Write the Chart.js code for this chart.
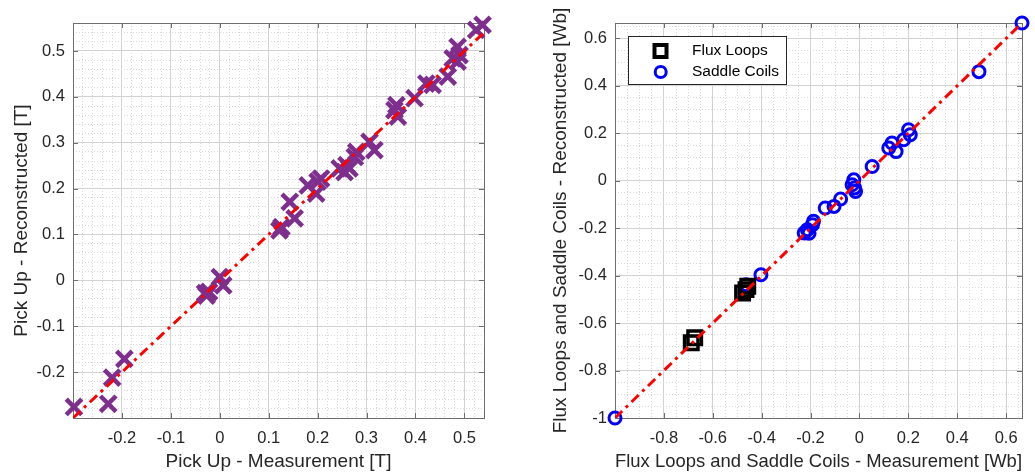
<!DOCTYPE html>
<html>
<head>
<meta charset="utf-8">
<script src="https://cdn.jsdelivr.net/npm/chart.js@4.4.0/dist/chart.umd.min.js"></script>
<style>
  body { margin: 0; background: #fff; width: 1035px; height: 474px; overflow: hidden; position: relative; }
  #left { position: absolute; left: 0; top: 0; }
  #right { position: absolute; left: 540px; top: 0; }
</style>
</head>
<body>
<canvas id="left" width="500" height="474"></canvas>
<canvas id="right" width="495" height="474"></canvas>
<script>
'use strict'

// pick up probes: measured vs reconstructed [T]
var pickUpMeas = [-0.298, -0.228, -0.220, -0.195, -0.030, -0.022, -0.027, 0.000, 0.007, 0.122,
  0.126, 0.153, 0.143, 0.180, 0.197, 0.207, 0.200, 0.245, 0.255, 0.259,
  0.265, 0.279, 0.276, 0.306, 0.316, 0.361, 0.364, 0.357, 0.398, 0.422,
  0.435, 0.466, 0.476, 0.486, 0.486, 0.490, 0.524, 0.537];
var pickUpRec = [-0.276, -0.269, -0.212, -0.171, -0.028, -0.025, -0.033, 0.007, -0.011, 0.109,
  0.116, 0.135, 0.171, 0.207, 0.189, 0.222, 0.215, 0.244, 0.236, 0.251,
  0.244, 0.280, 0.269, 0.302, 0.284, 0.382, 0.357, 0.371, 0.397, 0.429,
  0.426, 0.444, 0.484, 0.477, 0.509, 0.491, 0.546, 0.557];

// flux loops [Wb]
var fluxMeas = [-0.457, -0.464, -0.478, -0.674, -0.688];
var fluxRec = [-0.445, -0.459, -0.473, -0.662, -0.683];

// saddle coils [Wb]
var saddleMeas = [-1.000, -0.464, -0.403, -0.226, -0.213, -0.206, -0.192, -0.188, -0.140, -0.104,
  -0.077, -0.030, -0.023, -0.016, -0.020, 0.052, 0.120, 0.133, 0.150, 0.181,
  0.201, 0.208, 0.489, 0.665];
var saddleRec = [-1.000, -0.438, -0.396, -0.220, -0.206, -0.221, -0.185, -0.171, -0.115, -0.108,
  -0.077, -0.017, 0.004, -0.045, -0.030, 0.060, 0.138, 0.159, 0.123, 0.173,
  0.215, 0.194, 0.460, 0.665];

// axis limits and tick labels
var leftXLim = [-0.3, 0.54];
var leftYLim = [-0.3, 0.561];
var leftTicks = [-0.2, -0.1, 0, 0.1, 0.2, 0.3, 0.4, 0.5];
var rightLim = [-1, 0.665];
var rightXTicks = [-0.8, -0.6, -0.4, -0.2, 0, 0.2, 0.4, 0.6];
var rightYTicks = [-1, -0.8, -0.6, -0.4, -0.2, 0, 0.2, 0.4, 0.6];

var TEXT = '#262626';
Chart.defaults.font.family = '"Liberation Sans", Arial, sans-serif';
Chart.defaults.color = TEXT;

function isMajor(v, labels) {
  return labels.some(function(t) { return Math.abs(t - v) < 1e-6; });
}

function pts(xs, ys) {
  return xs.map(function(x, i) { return {x: x, y: ys[i]}; });
}

function gridScale(lim, minorStep, labels, title, horizontal, size, titlePad) {
  return {
    type: 'linear',
    min: lim[0],
    max: lim[1],
    afterBuildTicks: function(scale) {
      var ticks = [];
      for (var k = Math.ceil(lim[0] / minorStep - 1e-6); k * minorStep <= lim[1] + 1e-9; k++) {
        var v = +(k * minorStep).toFixed(4);
        if ((v > lim[0] + 1e-6 && v < lim[1] - 1e-6) || isMajor(v, labels)) ticks.push({value: v});
      }
      scale.ticks = ticks;
    },
    afterFit: function(scale) {
      if (horizontal) scale.height = size; else scale.width = size;
    },
    grid: {
      drawTicks: false,
      lineWidth: 1,
      color: function(c) { return isMajor(c.tick.value, labels) ? '#d2d2d2' : '#d9d9d9'; }
    },
    border: {
      display: false,
      dash: function(c) { return isMajor(c.tick.value, labels) ? [] : [1, 2]; }
    },
    ticks: {
      autoSkip: false,
      maxRotation: 0,
      padding: horizontal ? 11 : 8,
      color: TEXT,
      font: {size: 16.5},
      callback: function(v) { return isMajor(v, labels) ? String(+v.toFixed(2)) : ''; }
    },
    title: {
      display: true,
      text: title,
      color: TEXT,
      font: {size: 19},
      padding: titlePad
    }
  };
}

// axes box with inward tick marks on all four sides
function boxPlugin(xLabels, yLabels) {
  return {
    id: 'box',
    beforeDatasetsDraw: function(chart) {
      var a = chart.chartArea, ctx = chart.ctx;
      var sx = chart.scales.x, sy = chart.scales.y;
      ctx.save();
      ctx.strokeStyle = '#6e6e6e';
      ctx.lineWidth = 1;
      ctx.strokeRect(Math.round(a.left) + 0.5, Math.round(a.top) + 0.5,
        Math.round(a.right - a.left), Math.round(a.bottom - a.top));
      ctx.beginPath();
      xLabels.forEach(function(v) {
        var p = Math.round(sx.getPixelForValue(v)) + 0.5;
        ctx.moveTo(p, a.bottom); ctx.lineTo(p, a.bottom - 5);
        ctx.moveTo(p, a.top); ctx.lineTo(p, a.top + 5);
      });
      yLabels.forEach(function(v) {
        var p = Math.round(sy.getPixelForValue(v)) + 0.5;
        ctx.moveTo(a.left, p); ctx.lineTo(a.left + 5, p);
        ctx.moveTo(a.right, p); ctx.lineTo(a.right - 5, p);
      });
      ctx.stroke();
      ctx.restore();
    }
  };
}

var legendPlugin = {
  id: 'fluxLegend',
  afterDatasetsDraw: function(chart) {
    var ctx = chart.ctx;
    var bx = 88, by = 36, bw = 158, bh = 48;
    ctx.save();
    ctx.fillStyle = '#fff';
    ctx.fillRect(bx, by, bw, bh);
    ctx.strokeStyle = TEXT;
    ctx.lineWidth = 1;
    ctx.strokeRect(bx + 0.5, by + 0.5, bw, bh);
    ctx.strokeStyle = '#000';
    ctx.lineWidth = 4;
    ctx.strokeRect(114.5, 45, 12, 12);
    ctx.strokeStyle = '#0000ff';
    ctx.lineWidth = 3;
    ctx.beginPath();
    ctx.arc(120.7, 72, 5.5, 0, Math.PI * 2);
    ctx.stroke();
    ctx.fillStyle = '#000';
    ctx.font = '15.5px "Liberation Sans", Arial, sans-serif';
    ctx.textBaseline = 'middle';
    ctx.fillText('Flux Loops', 152, 51);
    ctx.fillText('Saddle Coils', 152, 72);
    ctx.restore();
  }
};

new Chart(document.getElementById('left'), {
  type: 'scatter',
  data: {
    datasets: [{
      label: 'fit',
      data: [{x: leftXLim[0], y: leftXLim[0]}, {x: leftXLim[1], y: leftXLim[1]}],
      showLine: true,
      borderColor: '#ff0000',
      borderWidth: 3,
      borderDash: [10, 5, 3, 5],
      pointRadius: 0,
      order: 0
    }, {
      label: 'Pick Up',
      data: pts(pickUpMeas, pickUpRec),
      pointStyle: 'crossRot',
      pointRadius: 11,
      pointBorderWidth: 4.5,
      borderColor: '#7e2f8e',
      backgroundColor: '#7e2f8e',
      clip: false,
      order: 1
    }]
  },
  options: {
    responsive: false,
    animation: false,
    layout: {padding: {top: 23, right: 16, left: 0, bottom: 0}},
    plugins: {legend: {display: false}, tooltip: {enabled: false}},
    scales: {
      x: gridScale(leftXLim, 0.02, leftTicks, 'Pick Up - Measurement [T]', true, 56, {top: 0, bottom: 1}),
      y: gridScale(leftYLim, 0.02, leftTicks, 'Pick Up - Reconstructed [T]', false, 73, {top: 10, bottom: 0})
    }
  },
  plugins: [boxPlugin(leftTicks, leftTicks)]
});

new Chart(document.getElementById('right'), {
  type: 'scatter',
  data: {
    datasets: [{
      label: 'fit',
      data: [{x: rightLim[0], y: rightLim[0]}, {x: rightLim[1], y: rightLim[1]}],
      showLine: true,
      borderColor: '#ff0000',
      borderWidth: 3,
      borderDash: [10, 5, 3, 5],
      pointRadius: 0,
      order: 0
    }, {
      label: 'Flux Loops',
      data: pts(fluxMeas, fluxRec),
      pointStyle: 'rect',
      pointRadius: 9.5,
      pointBorderWidth: 3.5,
      borderColor: '#000',
      backgroundColor: 'rgba(0,0,0,0)',
      clip: false,
      order: 1
    }, {
      label: 'Saddle Coils',
      data: pts(saddleMeas, saddleRec),
      pointStyle: 'circle',
      pointRadius: 6,
      pointBorderWidth: 3,
      borderColor: '#0000ff',
      backgroundColor: 'rgba(0,0,0,0)',
      clip: false,
      order: 2
    }]
  },
  options: {
    responsive: false,
    animation: false,
    layout: {padding: {top: 23, right: 11, left: 0, bottom: 0}},
    plugins: {legend: {display: false}, tooltip: {enabled: false}},
    scales: {
      x: gridScale(rightLim, 0.05, rightXTicks, 'Flux Loops and Saddle Coils - Measurement [Wb]', true, 56, {top: 0, bottom: 1}),
      y: gridScale(rightLim, 0.05, rightYTicks, 'Flux Loops and Saddle Coils - Reconstructed [Wb]', false, 75, {top: 9, bottom: 0})
    }
  },
  plugins: [boxPlugin(rightXTicks, rightYTicks), legendPlugin]
});
</script>
</body>
</html>
